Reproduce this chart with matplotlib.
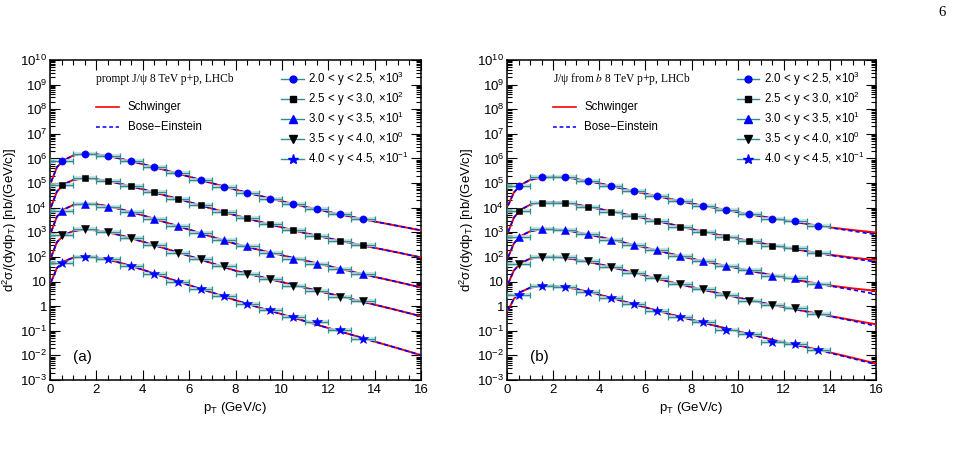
import numpy as np
import matplotlib
matplotlib.use('Agg')
import matplotlib.pyplot as plt
from matplotlib.ticker import LogLocator, MultipleLocator, FixedLocator, FixedFormatter, NullFormatter

plt.rcParams['font.family'] = ['Liberation Sans', 'DejaVu Sans']
plt.rcParams['mathtext.fontset'] = 'custom'
plt.rcParams['mathtext.rm'] = 'Liberation Sans'
plt.rcParams['mathtext.it'] = 'Liberation Sans:italic'
plt.rcParams['mathtext.bf'] = 'Liberation Sans:bold'

# ---------------- data ----------------
pt_centers = [0.5, 1.5, 2.5, 3.5, 4.5, 5.5, 6.5, 7.5, 8.5, 9.5, 10.5, 11.5, 12.5, 13.5]
pt_halfwidth = 0.5
rapidity_labels = ['2.0 < y < 2.5, ×10$^{3}$', '2.5 < y < 3.0, ×10$^{2}$',
                   '3.0 < y < 3.5, ×10$^{1}$', '3.5 < y < 4.0, ×10$^{0}$',
                   '4.0 < y < 4.5, ×10$^{-1}$']
scale_factors = [1e3, 1e2, 1e1, 1e0, 1e-1]

# prompt J/psi, d2sigma/dydpT [nb/(GeV/c)] (unscaled)
prompt_y1 = [776, 1510, 1260, 776, 457, 245, 135, 71, 41, 23.4, 13.8, 8.5, 5.4, 3.5]
prompt_y2 = [832, 1550, 1200, 759, 427, 224, 129, 65, 37, 21, 12, 7.2, 4.6, 2.95]
prompt_y3 = [741, 1480, 1100, 661, 355, 178, 95, 51, 28, 14.8, 8.1, 5.0, 3.1, 2.0]
prompt_y4 = [776, 1320, 1050, 603, 302, 151, 83, 43, 21, 12.3, 6.8, 4.2, 2.4, 1.66]
prompt_y5 = [589, 1000, 813, 427, 209, 95, 51, 25, 12.3, 6.9, 3.5, 2.2, 1.05, 0.45]

# J/psi from b (unscaled)
fromb_y1 = [76, 170, 170, 123, 76, 47, 29.5, 19.1, 11.7, 7.9, 5.5, 3.5, 2.75, 1.78]
fromb_y2 = [74, 162, 158, 102, 68, 46, 29, 16.2, 10.5, 6.6, 4.4, 2.8, 2.2, 1.38]
fromb_y3 = [62, 132, 123, 85, 51, 30, 19.1, 10.5, 6.8, 4.4, 2.9, 1.66, 1.35, 0.78]
fromb_y4 = [50, 100, 95, 69, 40, 22.4, 13.5, 7.7, 4.8, 2.8, 1.58, 1.10, 0.81, 0.46]
fromb_y5 = [28, 68, 59, 38, 22, 12, 6.5, 3.7, 2.2, 1.12, 0.72, 0.35, 0.28, 0.17]

# model curves read at pT knots (unscaled)
pt_knots = [0.05, 0.3, 0.6, 1.0, 1.5, 2.0, 2.5, 3.0, 4.0, 5.0, 6.0, 7.0, 8.0,
            9.0, 10.0, 11.0, 12.0, 13.0, 14.0, 15.0, 16.0]

prompt_schw1 = [112, 447, 851, 1318, 1549, 1479, 1259, 1000, 589, 331, 182, 98, 54, 31, 18.2, 11.0, 6.8, 4.3, 2.75, 1.82, 1.20]
prompt_schw2 = [110, 457, 891, 1349, 1549, 1445, 1202, 955, 562, 309, 170, 91, 49, 27.5, 15.8, 9.3, 5.75, 3.63, 2.34, 1.51, 0.955]
prompt_schw3 = [105, 437, 851, 1288, 1479, 1380, 1148, 891, 490, 251, 129, 65, 34, 19.5, 11.7, 7.1, 4.3, 2.57, 1.55, 0.955, 0.575]
prompt_schw4 = [100, 398, 759, 1122, 1288, 1202, 1000, 776, 417, 214, 110, 55, 27.5, 16.2, 9.5, 5.6, 3.3, 1.95, 1.15, 0.676, 0.389]
prompt_schw5 = [98, 355, 661, 933, 1023, 955, 776, 589, 302, 145, 71, 35.5, 17.4, 8.9, 4.7, 2.45, 1.29, 0.69, 0.363, 0.195, 0.102]
# Bose-Einstein curves coincide with Schwinger in panel (a)
prompt_be1 = prompt_schw1
prompt_be2 = prompt_schw2
prompt_be3 = prompt_schw3
prompt_be4 = prompt_schw4
prompt_be5 = prompt_schw5

fromb_schw1 = [12.6, 41.7, 85, 135, 166, 176, 170, 148, 98, 60, 37, 23.4, 14.8, 9.8, 6.6, 4.5, 3.1, 2.19, 1.58, 1.23, 0.98]
fromb_schw2 = [10.5, 39.8, 83, 132, 162, 170, 158, 135, 89, 57.5, 36.3, 22.4, 13.5, 8.5, 5.5, 3.63, 2.45, 1.70, 1.23, 0.933, 0.741]
fromb_schw3 = [10.0, 35.5, 71, 110, 132, 132, 123, 102, 66, 39.8, 24.0, 14.1, 8.5, 5.4, 3.47, 2.24, 1.45, 0.977, 0.692, 0.525, 0.417]
fromb_schw4 = [8.3, 28.2, 56, 85, 100, 100, 91, 78, 51, 30, 17.4, 10.0, 6.0, 3.63, 2.24, 1.41, 0.912, 0.603, 0.398, 0.269, 0.182]
fromb_schw5 = [6.9, 20.0, 38.0, 56, 66, 66, 60, 50, 29.5, 16.2, 8.9, 4.9, 2.82, 1.62, 0.955, 0.562, 0.339, 0.214, 0.132, 0.0794, 0.0468]

fromb_be1 = [12.6, 41.7, 85, 135, 166, 176, 170, 148, 98, 60, 37, 23.4, 14.8, 9.8, 6.6, 4.5, 3.1, 2.19, 1.55, 1.12, 0.81]
fromb_be2 = [10.5, 39.8, 83, 132, 162, 170, 158, 135, 89, 57.5, 36.3, 22.4, 13.5, 8.5, 5.5, 3.63, 2.45, 1.70, 1.175, 0.851, 0.631]
fromb_be3 = [10.0, 35.5, 71, 110, 132, 132, 123, 102, 66, 39.8, 24.0, 14.1, 8.5, 5.4, 3.47, 2.24, 1.45, 0.977, 0.661, 0.457, 0.309]
fromb_be4 = [8.3, 28.2, 56, 85, 100, 100, 91, 78, 51, 30, 17.4, 10.0, 6.0, 3.63, 2.24, 1.41, 0.912, 0.603, 0.389, 0.251, 0.155]
fromb_be5 = [6.9, 20.0, 38.0, 56, 66, 66, 60, 50, 29.5, 16.2, 8.9, 4.9, 2.82, 1.62, 0.955, 0.562, 0.339, 0.214, 0.126, 0.0741, 0.0427]

y_tick_vals = [1e-3, 1e-2, 1e-1, 1, 10, 1e2, 1e3, 1e4, 1e5, 1e6, 1e7, 1e8, 1e9, 1e10]
y_tick_labels = ['$10^{-3}$', '$10^{-2}$', '$10^{-1}$', '1', '10', '$10^{2}$', '$10^{3}$',
                 '$10^{4}$', '$10^{5}$', '$10^{6}$', '$10^{7}$', '$10^{8}$', '$10^{9}$', '$10^{10}$']

# ---------------- style ----------------
markers = ['o', 's', '^', 'v', '*']
mcolors = ['#0000ff', '#000000', '#0000ff', '#000000', '#0000ff']
msizes = [5.2, 5.0, 5.4, 5.4, 7.2]
teal = '#2e8f8f'
teal_light = '#bcdede'

W, H = 959, 454
fig = plt.figure(figsize=(W / 100, H / 100), dpi=100)


def add_axes(l, r, t, b):
    return fig.add_axes([l / W, 1 - b / H, (r - l) / W, (b - t) / H])


def draw_panel(ax, data_rows, schw_rows, be_rows, title, tag):
    ax.set_yscale('log')
    x = np.array(pt_centers)
    for i in range(5):
        s = scale_factors[i]
        ax.plot(pt_knots, np.array(schw_rows[i]) * s, color='#ff0000', lw=1.4, zorder=3)
        ax.plot(pt_knots, np.array(be_rows[i]) * s, color='#0000ff', lw=1.2,
                dashes=(2.5, 1.8), zorder=4)
    for i in range(5):
        s = scale_factors[i]
        y = np.array(data_rows[i]) * s
        ax.errorbar(x, y, xerr=pt_halfwidth, fmt='none', ecolor=teal_light, elinewidth=3.0,
                    capsize=0, zorder=5, alpha=0.8)
        ax.errorbar(x, y, xerr=pt_halfwidth, fmt='none', ecolor=teal, elinewidth=0.9,
                    capsize=2.0, capthick=0.9, zorder=6)
        ax.plot(x, y, linestyle='none', marker=markers[i], color=mcolors[i],
                markersize=msizes[i], markeredgewidth=0.4, zorder=7)

    ax.set_xlim(0, 16)
    ax.set_ylim(1e-3, 1e10)
    ax.xaxis.set_major_locator(MultipleLocator(2))
    ax.xaxis.set_minor_locator(MultipleLocator(0.5))
    ax.yaxis.set_major_locator(FixedLocator(y_tick_vals))
    ax.yaxis.set_major_formatter(FixedFormatter(y_tick_labels))
    ax.yaxis.set_minor_locator(LogLocator(base=10, subs=np.arange(2, 10), numticks=100))
    ax.yaxis.set_minor_formatter(NullFormatter())
    ax.tick_params(which='both', direction='in', top=True, right=True, labelsize=9.5,
                   width=0.8, colors='black')
    ax.tick_params(which='major', length=7)
    ax.tick_params(which='minor', length=3.5)
    ax.tick_params(axis='x', pad=3)
    ax.tick_params(axis='y', pad=2)
    for sp in ax.spines.values():
        sp.set_linewidth(1.1)

    ax.set_xlabel(r'p$_{\mathrm{T}}$ (GeV/c)', fontsize=9.5, labelpad=3)
    ax.set_ylabel(r'd$^{2}$σ/(dydp$_{\mathrm{T}}$) [nb/(GeV/c)]', fontsize=9.5, labelpad=1)

    # title (serif)
    ax.text(0.124, 0.940, title, transform=ax.transAxes, ha='left', va='center',
            fontsize=8.3, family=['Liberation Serif', 'DejaVu Serif'], math_fontfamily='stix')
    # model legend
    ax.plot([0.124, 0.187], [0.854, 0.854], transform=ax.transAxes, color='#ff0000', lw=1.2,
            clip_on=False)
    ax.text(0.209, 0.854, 'Schwinger', transform=ax.transAxes, ha='left', va='center',
            fontsize=8.3)
    ax.plot([0.124, 0.187], [0.790, 0.790], transform=ax.transAxes, color='#0000ff', lw=1.1,
            dashes=(2.5, 1.8), clip_on=False)
    ax.text(0.209, 0.790, 'Bose−Einstein', transform=ax.transAxes, ha='left', va='center',
            fontsize=8.3)
    # rapidity legend
    rows_y = [0.940, 0.877, 0.815, 0.752, 0.690]
    for i in range(5):
        ax.plot([0.623, 0.684], [rows_y[i]] * 2, transform=ax.transAxes, color=teal, lw=1.0,
                clip_on=False)
        ax.plot([0.654], [rows_y[i]], transform=ax.transAxes, marker=markers[i],
                color=mcolors[i], markersize=msizes[i] * 0.95, linestyle='none', clip_on=False)
        ax.text(0.696, rows_y[i], rapidity_labels[i], transform=ax.transAxes, ha='left',
                va='center', fontsize=8.3)
    ax.text(0.062, 0.073, tag, transform=ax.transAxes, ha='left', va='center', fontsize=11)


axa = add_axes(50, 421, 60, 380)
axb = add_axes(507, 876, 60, 380)

draw_panel(axa,
           [prompt_y1, prompt_y2, prompt_y3, prompt_y4, prompt_y5],
           [prompt_schw1, prompt_schw2, prompt_schw3, prompt_schw4, prompt_schw5],
           [prompt_be1, prompt_be2, prompt_be3, prompt_be4, prompt_be5],
           'prompt J/ψ 8 TeV p+p, LHCb', '(a)')
draw_panel(axb,
           [fromb_y1, fromb_y2, fromb_y3, fromb_y4, fromb_y5],
           [fromb_schw1, fromb_schw2, fromb_schw3, fromb_schw4, fromb_schw5],
           [fromb_be1, fromb_be2, fromb_be3, fromb_be4, fromb_be5],
           'J/ψ from $b$ 8 TeV p+p, LHCb', '(b)')

fig.text(942 / W, 1 - 12 / H, '6', ha='center', va='center', fontsize=10.5,
         family=['Liberation Serif', 'DejaVu Serif'])

fig.savefig('out.png', dpi=100)
